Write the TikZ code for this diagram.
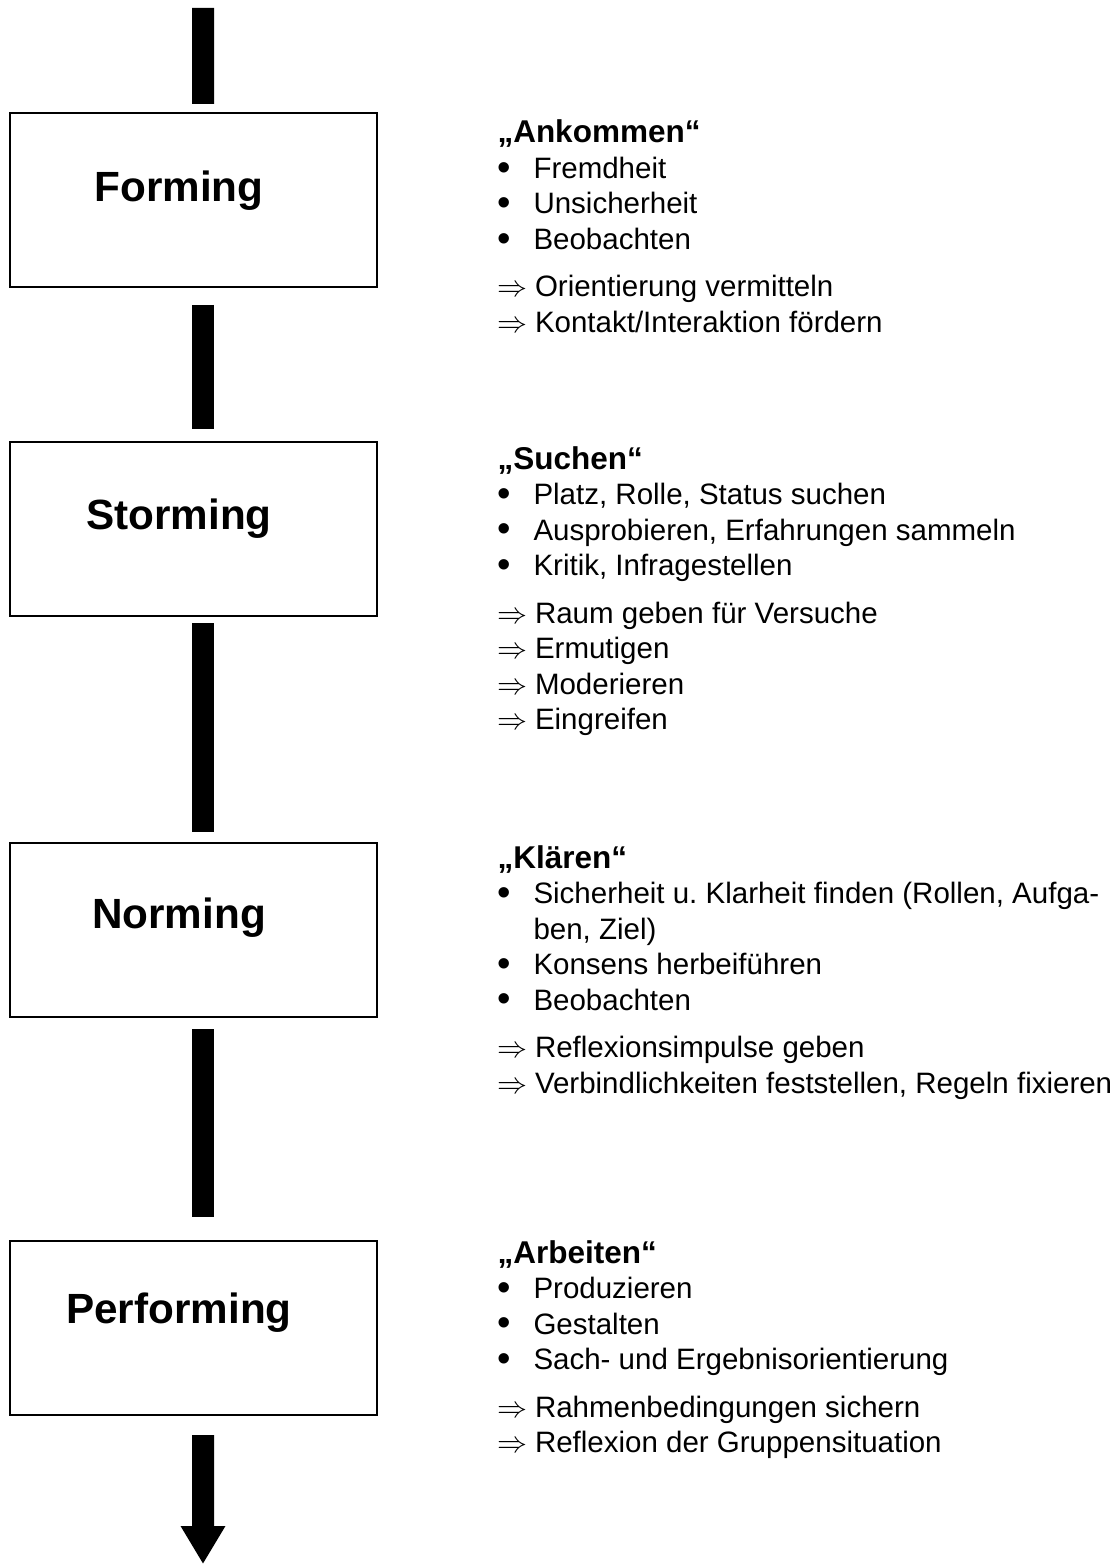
\documentclass[tikz,border=0pt]{standalone}
\usepackage{graphicx}
\usepackage{fontspec}
\setmainfont{Liberation Sans}
\usetikzlibrary{arrows.meta}
\frenchspacing

\newcommand{\punkt}[1]{\makebox[14.4pt][l]{\raisebox{-0.7pt}{\scalebox{1.3}{\textbullet}}}#1}
\newcommand{\folge}[1]{\makebox[15pt][l]{\fontsize{13}{14}\selectfont$\Rightarrow$}#1}
\newcommand{\titel}[1]{{\fontsize{12.6}{14.2}\selectfont\bfseries #1}}

\tikzset{
  phase/.style={draw, line width=0.8pt, minimum width=146.8pt, minimum height=69.6pt, inner sep=0pt},
  phasename/.style={font=\fontsize{16.9}{20}\selectfont\bfseries, anchor=base, inner sep=0pt},
  notes/.style={anchor=base west, inner sep=0pt, text width=250pt, align=flush left,
    font=\fontsize{11.8}{14.2}\selectfont},
  bar/.style={line width=8.8pt},
}

\begin{document}
\begin{tikzpicture}[x=0.4pt, y=-0.4pt]
	\useasboundingbox (0,0) rectangle (1118,1564);

	% phase boxes
	\node[phase] (forming) at (193.5,200) {};
	\node[phase] (storming) at (193.5,529) {};
	\node[phase] (norming) at (193.5,930) {};
	\node[phase] (performing) at (193.5,1328) {};

	\node[phasename] (formingname) at (179,202) {Forming};
	\node[phasename] (stormingname) at (179,529) {Storming};
	\node[phasename] (normingname) at (179,928) {Norming};
	\node[phasename] (performingname) at (179,1323) {Performing};

	% bars
	\coordinate (start) at (203,8);
	\coordinate (end) at (203,1564);
	\draw[bar, shorten >=3.2pt] (start) -- ([xshift=3.8pt]forming.north);
	\draw[bar, shorten <=6.8pt, shorten >=4.8pt] ([xshift=3.8pt]forming.south) -- ([xshift=3.8pt]storming.north);
	\draw[bar, shorten <=2.4pt, shorten >=4pt] ([xshift=3.8pt]storming.south) -- ([xshift=3.8pt]norming.north);
	\draw[bar, shorten <=4.4pt, shorten >=9.2pt] ([xshift=3.8pt]norming.south) -- ([xshift=3.8pt]performing.north);
	\draw[bar, shorten <=7.6pt, -{Triangle[width=16.8pt, length=15.2pt]}] ([xshift=3.8pt]performing.south) -- (end);

	% notes
	\node[notes] (ankommen) at (497,143) {\titel{„Ankommen“}\\
		\punkt{Fremdheit}\\
		\punkt{Unsicherheit}\\
		\punkt{Beobachten}\\[4.8pt]
		\folge{Orientierung vermitteln}\\
		\folge{Kontakt/Interaktion fördern}};
	\node[notes] (suchen) at (497,469) {\titel{„Suchen“}\\
		\punkt{Platz, Rolle, Status suchen}\\
		\punkt{Ausprobieren, Erfahrungen sammeln}\\
		\punkt{Kritik, Infragestellen}\\[4.8pt]
		\folge{Raum geben für Versuche}\\
		\folge{Ermutigen}\\
		\folge{Moderieren}\\
		\folge{Eingreifen}};
	\node[notes] (klaeren) at (497,868) {\titel{„Klären“}\\
		\punkt{Sicherheit u. Klarheit finden (Rollen, Aufga-}\\
		\hspace*{14.4pt}ben, Ziel)\\
		\punkt{Konsens herbeiführen}\\
		\punkt{Beobachten}\\[4.8pt]
		\folge{Reflexionsimpulse geben}\\
		\folge{Verbindlichkeiten feststellen, Regeln fixieren}};
	\node[notes] (arbeiten) at (497,1263) {\titel{„Arbeiten“}\\
		\punkt{Produzieren}\\
		\punkt{Gestalten}\\
		\punkt{Sach- und Ergebnisorientierung}\\[4.8pt]
		\folge{Rahmenbedingungen sichern}\\
		\folge{Reflexion der Gruppensituation}};
\end{tikzpicture}
\end{document}
